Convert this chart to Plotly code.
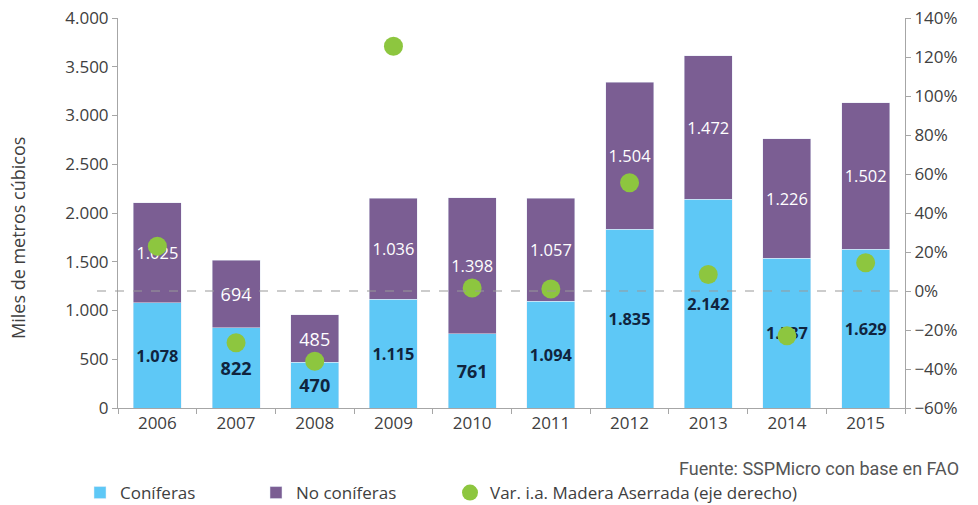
import plotly.graph_objects as go

years = ["2006", "2007", "2008", "2009", "2010", "2011", "2012", "2013", "2014", "2015"]
coniferas = [1078, 822, 470, 1115, 761, 1094, 1835, 2142, 1537, 1629]
no_coniferas = [1025, 694, 485, 1036, 1398, 1057, 1504, 1472, 1226, 1502]
var_ia = [23, -26.5, -36, 125.5, 1.5, 1, 55.5, 8.5, -23, 14.5]

FONT = "Open Sans, Lato, sans-serif"
BLUE = "#5EC8F6"
PURPLE = "#7B5E93"
GREEN = "#8DC63F"
AX = "#A6A6A6"
TXT = "#404040"

# the page body margin is removed below, so the figure fills the window
OFF = 0
W, H = 978 - OFF, 505 - OFF
PL, PR, PT, PB = 118, 905, 18, 408  # plot area in page pixels
L, T = PL - OFF, PT - OFF
R, B = W - (PR - OFF), H - (PB - OFF)
PW, PH = PR - PL, PB - PT


def px(xp):
    return (xp - PL) / PW


def py(yp):
    return (PB - yp) / PH


def cx(xp):
    return (xp - OFF) / W


def cy(yp):
    return 1 - (yp - OFF) / H


fig = go.Figure()
fig.add_trace(go.Bar(
    x=years, y=coniferas, name="Coníferas", marker_color=BLUE, legend="legend",
    texttemplate="<b>%{y:,d}</b>", textposition="inside", insidetextanchor="middle",
    textfont=dict(color="#10243E", size=18, family=FONT), textangle=0,
))
fig.add_trace(go.Bar(
    x=years, y=no_coniferas, name="No coníferas", marker_color=PURPLE, legend="legend2",
    texttemplate="%{y:,d}", textposition="inside", insidetextanchor="middle",
    textfont=dict(color="white", size=18, family=FONT), textangle=0,
))
fig.add_trace(go.Scatter(
    x=years, y=var_ia, name="Var. i.a. Madera Aserrada (eje derecho)", yaxis="y2",
    mode="markers", marker=dict(color=GREEN, size=19), legend="legend3",
))

fig.add_shape(type="line", xref="paper", yref="y2", x0=px(97), x1=1, y0=0, y1=0,
              line=dict(color="#999999", width=1, dash="dash"))

leg_common = dict(orientation="h", yanchor="middle", xanchor="left",
                  xref="container", yref="container", y=cy(493),
                  font=dict(size=17, color=TXT, family=FONT), itemwidth=30,
                  bgcolor="rgba(0,0,0,0)")

fig.update_layout(
    width=W, height=H,
    margin=dict(l=L, r=R, t=T, b=B),
    paper_bgcolor="white", plot_bgcolor="white",
    barmode="stack", bargap=0.39,
    separators=",.",
    font=dict(family=FONT, size=17, color=TXT),
    xaxis=dict(type="category", range=[-0.5, len(years) - 0.5], showline=True,
               linecolor=AX, ticks="outside",
               tickson="boundaries", tickcolor=AX, ticklen=5, showgrid=False,
               automargin=False, tickfont=dict(size=17, color=TXT)),
    yaxis=dict(range=[0, 4000], dtick=500, tickformat=",d", showline=True,
               linecolor=AX, ticks="outside", tickcolor=AX, ticklen=5,
               showgrid=False, zeroline=False, automargin=False,
               ticklabeloverflow="allow"),
    yaxis2=dict(range=[-60, 140], dtick=20, ticksuffix="%", overlaying="y",
                side="right", showline=True, linecolor=AX, ticks="outside",
                tickcolor=AX, ticklen=5, showgrid=False, zeroline=False,
                automargin=False, ticklabeloverflow="allow"),
    legend=dict(x=cx(80), **leg_common),
    legend2=dict(x=cx(256), **leg_common),
    legend3=dict(x=cx(450), **leg_common),
    showlegend=True,
)

fig.add_annotation(text="Miles de metros cúbicos", xref="paper", yref="paper",
                   x=px(18), y=py(238), xanchor="center", yanchor="middle",
                   textangle=-90, showarrow=False,
                   font=dict(size=18, color=TXT, family=FONT))

fig.add_annotation(text="Fuente: SSPMicro con base en FAO", xref="paper", yref="paper",
                   x=px(961), y=py(469), xanchor="right", yanchor="middle", showarrow=False,
                   font=dict(family="Roboto, sans-serif", size=18, color="#555555"))

fig.write_html("out.html", config={"displayModeBar": False},
               post_script="document.body.style.margin='0px';")
